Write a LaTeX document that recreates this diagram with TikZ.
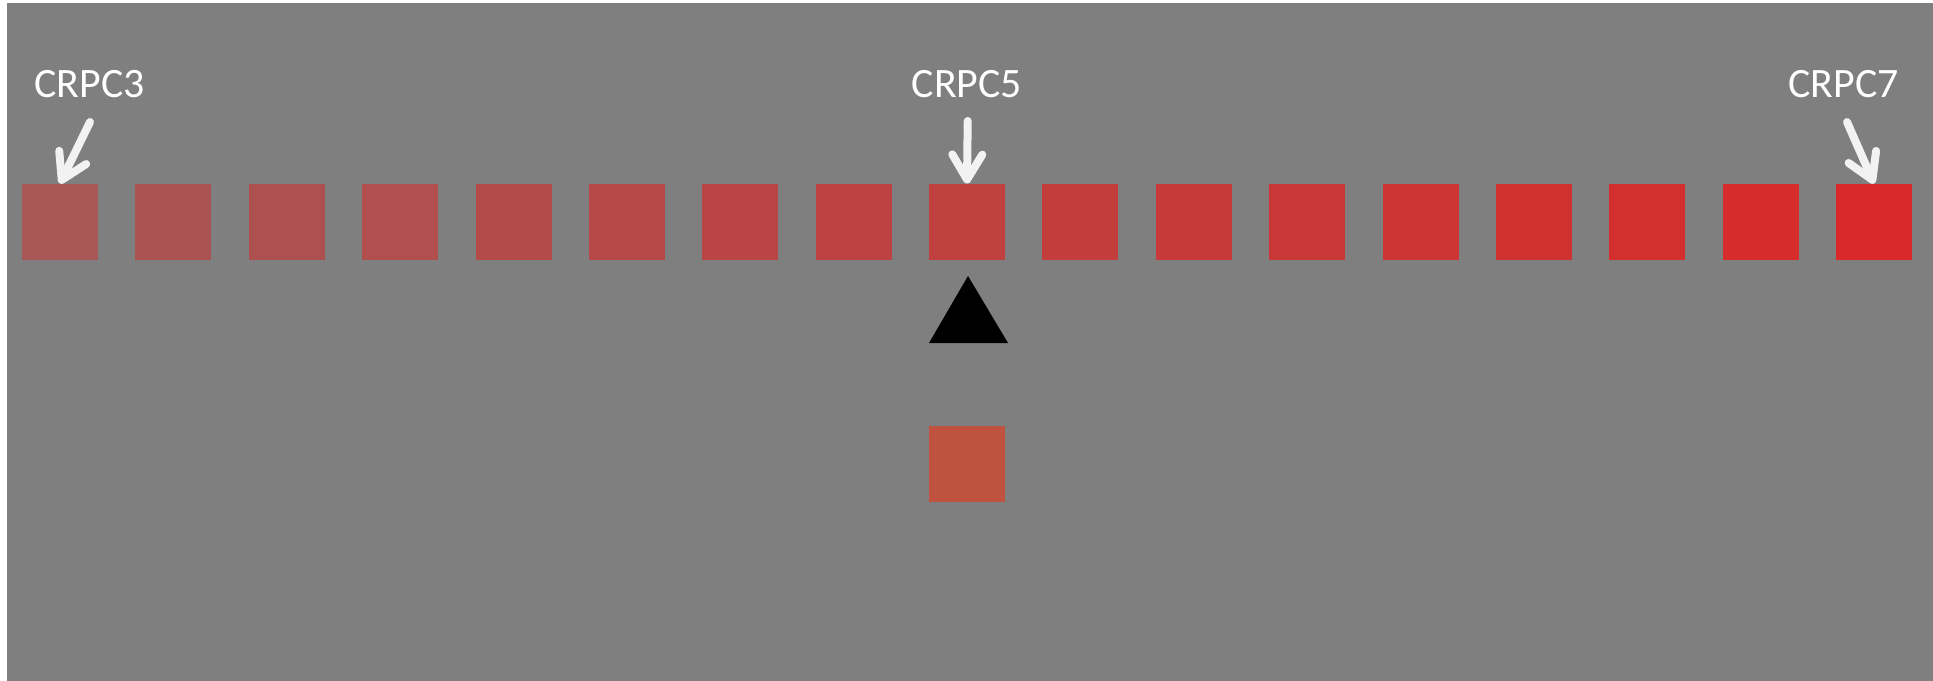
\documentclass[tikz,border=0pt]{standalone}
\usepackage{fontspec}
\setmainfont{Carlito}
\usetikzlibrary{arrows.meta}
\definecolor{bggray}{HTML}{7F7F7F}
\definecolor{sqL}{RGB}{168,86,86}
\definecolor{sqR}{RGB}{217,41,41}
\definecolor{sqB}{RGB}{192,82,64}
\definecolor{arrw}{HTML}{F2F2F2}
\begin{document}
\begin{tikzpicture}[x=1bp,y=-1bp,
  sq/.style={rectangle,minimum size=76bp,inner sep=0pt,draw=none},
  lbl/.style={text=white,font=\fontsize{42}{50}\selectfont,inner sep=0pt,anchor=base},
  warrow/.style={draw=arrw,line width=8bp,line cap=round,
    -{Straight Barb[length=25bp,width=30bp,round]}}]
\useasboundingbox (0,0) rectangle (1933,681);
\fill[white] (0,0) rectangle (1933,681);
\fill[bggray] (7,3) rectangle (1933,681);
\foreach \i in {0,...,16}{
  \pgfmathsetmacro{\xx}{60+113.375*\i}
  \pgfmathsetmacro{\pp}{100*\i/16}
  \colorlet{sqc}{sqR!\pp!sqL}
  \node[sq,fill=sqc] (s\i) at (\xx,221.7) {};
}
\node[sq,fill=sqB] (b) at (967,464) {};
\fill[black] (968,276) -- (1008,343) -- (929,343) -- cycle;
\node[lbl] (l3) at (89.5,97.5) {CRPC3};
\node[lbl] (l5) at (967,97.5) {CRPC5};
\node[lbl] (l7) at (1843.7,97.5) {CRPC7};
\coordinate (a3) at (90,122);
\coordinate (a5) at (967.7,121);
\coordinate (a7) at (1847,122);
\draw[warrow] (a3) -- (s0.north);
\draw[warrow] (a5) -- (s8.north);
\draw[warrow] (a7) -- (s16.north);
\end{tikzpicture}
\end{document}
